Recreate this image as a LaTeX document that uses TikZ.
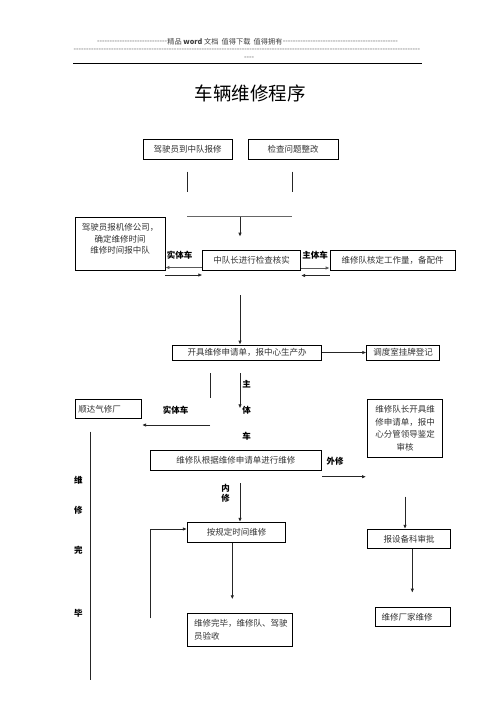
\documentclass[tikz,border=0pt]{standalone}
\usepackage{fontspec}
\newfontfamily\cjk{Noto Sans CJK SC}
\usetikzlibrary{arrows.meta}
\newcommand{\dashfill}[1]{\makebox[#1]{\xleaders\hbox{-}\hfill}}
\begin{document}
\begin{tikzpicture}[x=1pt,y=-1pt,
  box/.style={draw=black, line width=0.8pt, inner sep=0pt, font=\cjk\fontsize{8.5}{12}\selectfont, text=black!80},
  txt/.style={inner sep=0pt, font=\cjk\fontsize{8.5}{11.7}\selectfont, text=black!80},
  lbl/.style={inner sep=0pt, font=\cjk\bfseries\fontsize{8.5}{10}\selectfont},
  hdr/.style={inner sep=0pt, font=\cjk\fontsize{7.2}{8}\selectfont, text=black!75},
  ln/.style={line width=0.8pt, draw=black!85},
  arr/.style={ln, -{Latex[length=4pt,width=3.5pt]}}]
\fill[white] (0,0) rectangle (496,702);
\useasboundingbox (0,0) rectangle (496,702);

% header
\node[hdr] (htext) at (225,42) {精品 \textbf{word} 文档\ \ 值得下载\ \ 值得拥有};
\node[hdr, anchor=east] (hl) at (htext.west) {\dashfill{70pt}};
\node[hdr, anchor=west] (hr) at (htext.east) {\dashfill{115pt}};
\node[hdr, anchor=west] (h2) at (73.3,50) {\dashfill{346.7pt}};
\node[hdr] (h3) at (249,58.5) {----};
\coordinate (hla) at (73.3,63.3);
\coordinate (hlb) at (421.7,63.3);
\draw[line width=1.1pt] (hla) -- (hlb);

% title
\node[inner sep=0pt, font=\cjk\fontsize{18.5}{20}\selectfont] (title) at (250,93.5) {车辆维修程序};

% boxes
\node[box, minimum width=89pt, minimum height=20pt] (b1) at (187.5,149) {驾驶员到中队报修};
\node[box, minimum width=90pt, minimum height=20pt] (b2) at (293,149) {检查问题整改};
\node[box, minimum width=90pt, minimum height=52.7pt] (b3) at (120,243.7) {};
\node[txt, align=center] (b3t) at (120,239) {驾驶员报机修公司，\\确定维修时间\\维修时间报中队};
\node[box, minimum width=98pt, minimum height=20.7pt] (b4) at (251.7,260.3) {中队长进行检查核实};
\node[box, minimum width=125pt, minimum height=20.7pt] (b5) at (392.5,260.3) {维修队核定工作量，备配件};
\node[box, minimum width=149pt, minimum height=15pt] (b6) at (247.2,352.5) {开具维修申请单，报中心生产办};
\node[box, minimum width=72.6pt, minimum height=15pt] (b7) at (403,352.5) {调度室挂牌登记};
\node[box, minimum width=66.7pt, minimum height=19pt, text width=60pt, inner xsep=3.3pt, align=left] (b8) at (108.3,408.8) {顺达气修厂};
\node[box, minimum width=75.4pt, minimum height=58pt, align=center, font=\cjk\fontsize{8.5}{12.4}\selectfont] (b9) at (405,428.3) {维修队长开具维\\修申请单，报中\\心分管领导鉴定\\审核};
\node[box, minimum width=171.7pt, minimum height=19.3pt] (b10) at (235.8,460.3) {维修队根据维修申请单进行维修};
\node[box, minimum width=98.4pt, minimum height=20pt] (b11) at (236.5,532.3) {按规定时间维修};
\node[box, minimum height=33.4pt, text width=91.6pt, inner xsep=6.7pt, align=left, font=\cjk\fontsize{8.5}{13.3}\selectfont] (b12) at (239.8,630) {维修完毕，维修队、驾驶\\员验收};
\node[box, minimum width=83.4pt, minimum height=19pt] (b13) at (409,538.8) {报设备科审批};
\node[box, minimum height=19.4pt, text width=63pt, inner xsep=6pt, align=left] (b14) at (413.2,617) {维修厂家维修};

% labels
\node[lbl] (l1) at (179.7,255) {实体车};
\node[lbl] (l2) at (315,255) {主体车};
\node[lbl] (l3) at (246.7,384) {主};
\node[lbl] (l4) at (246.7,410) {体};
\node[lbl] (l5) at (246.7,436.7) {车};
\node[lbl] (l6) at (175.5,410) {实体车};
\node[lbl] (l7) at (335,461.7) {外修};
\node[lbl, align=center, font=\cjk\bfseries\fontsize{8.5}{10}\selectfont] (l8) at (225.7,493.3) {内\\修};
\node[lbl] (l9) at (78.3,480) {维};
\node[lbl] (l10) at (78.3,510) {修};
\node[lbl] (l11) at (78.3,550.7) {完};
\node[lbl] (l12) at (78.3,613.3) {毕};

% coordinates for free-standing connectors
\coordinate (v1a) at (187.3,171.7); \coordinate (v1b) at (187.3,191.7);
\coordinate (v2a) at (292.3,171.7); \coordinate (v2b) at (292.3,191.7);
\coordinate (h1a) at (187.3,216.7); \coordinate (h1b) at (292.3,216.7);
\coordinate (a1s) at (240,216.7); \coordinate (a1e) at (240,236.7);
\coordinate (a2s) at (240,295);
\coordinate (v3a) at (210.7,373.3); \coordinate (v3b) at (210.7,398.3);
\coordinate (a3s) at (240,373.3); \coordinate (a3e) at (240,408.3);
\coordinate (a4s) at (210,425);
\coordinate (v4a) at (90.7,431.7); \coordinate (v4b) at (90.7,680);
\coordinate (a5e) at (366,476.7);
\coordinate (a6s) at (240,483.3);
\coordinate (a7s) at (405,496.7);
\coordinate (a8e) at (232.3,599.3);
\coordinate (fbs) at (150.7,618.3); \coordinate (fbe) at (b11.west|-0,529);
\coordinate (a9e) at (412.3,592.7);

\draw[ln] (v1a) -- (v1b);
\draw[ln] (v2a) -- (v2b);
\draw[ln, draw=black!60] (h1a) -- (h1b);
\draw[arr] (a1s) -- (a1e);
\draw[arr, draw=black!65] (b4.west|-0,267.5) -- (b3.east|-0,267.5);
\draw[arr] (b3.east|-0,275) -- (b4.west|-0,275);
\draw[arr, draw=black!65] (b4.east|-0,268) -- (b5.west|-0,268);
\draw[arr] (b5.west|-0,275.5) -- (b4.east|-0,275.5);
\draw[arr] (a2s) -- (b6.north-|a2s);
\draw[arr] (b6.east) -- (b7.west);
\draw[ln] (v3a) -- (v3b);
\draw[arr] (a3s) -- (a3e);
\draw[arr] (a4s) -- (b8.east|-a4s);
\draw[ln] (v4a) -- (v4b);
\draw[arr] (b10.east|-a5e) -- (a5e);
\draw[arr] (a6s) -- (a6s|-b11.north);
\draw[arr] (a7s) -- (a7s|-b13.north);
\draw[arr] (b11.south-|a8e) -- (a8e);
\draw[arr] (fbs) |- (fbe);
\draw[arr] (b13.south-|a9e) -- (a9e);
\end{tikzpicture}
\end{document}
